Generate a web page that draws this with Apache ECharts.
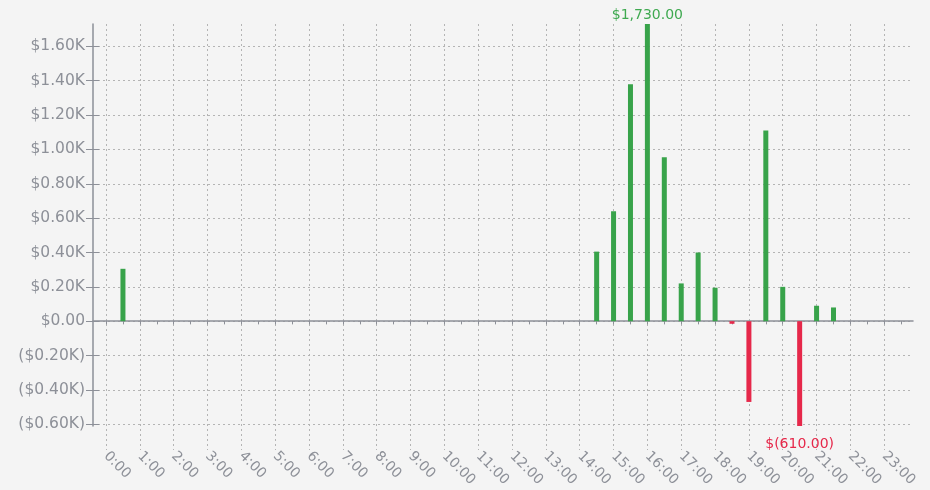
<!DOCTYPE html>
<html>
<head>
<meta charset="utf-8">
<script src="https://cdn.jsdelivr.net/npm/echarts@6/dist/echarts.min.js"></script>
<style>
html,body{margin:0;padding:0;background:#f4f4f4;}
#c{width:930px;height:490px;}
</style>
</head>
<body>
<div id="c"></div>
<script>
// ---- data ----
var slotHours = [0.5, 14.5, 15, 15.5, 16, 16.5, 17, 17.5, 18, 18.5, 19, 19.5, 20, 20.5, 21, 21.5];
var pnlValues = [305, 405, 640, 1380, 1730, 955, 220, 400, 195, -15, -470, 1110, 200, -610, 90, 80];
var yTickValues = [-600, -400, -200, 0, 200, 400, 600, 800, 1000, 1200, 1400, 1600];
var hourTicks = [0,1,2,3,4,5,6,7,8,9,10,11,12,13,14,15,16,17,18,19,20,21,22,23];
var halfHourTicks = [];
for (var i = 0; i < 48; i++) halfHourTicks.push(i / 2);

var GREEN = '#38a34a', RED = '#e6284a', GRAY = '#8d9098';
var XMIN = -0.385, XMAX = 23.85;
var YMIN = Math.min.apply(null, pnlValues), YMAX = Math.max.apply(null, pnlValues);

function fmtAxis(v) {
  if (v === 0) return '$0.00';
  var s = '$' + (Math.abs(v) / 1000).toFixed(2) + 'K';
  return v < 0 ? '(' + s + ')' : s;
}
function fmtMoney(v) {
  var a = Math.abs(v).toFixed(2).replace(/\B(?=(\d{3})+(?!\d))/g, ',');
  return v < 0 ? '$(' + a + ')' : '$' + a;
}

var maxIdx = pnlValues.indexOf(YMAX), minIdx = pnlValues.indexOf(YMIN);
var barData = slotHours.map(function (h, i) {
  var v = pnlValues[i];
  var d = { value: [h, v], itemStyle: { color: v >= 0 ? GREEN : RED } };
  if (i === maxIdx) {
    d.label = { show: true, position: 'top', distance: 2, color: '#3fa950', fontSize: 14,
      fontFamily: 'DejaVu Sans', formatter: fmtMoney(v) };
  } else if (i === minIdx) {
    d.label = { show: true, position: 'bottom', distance: 11, color: RED, fontSize: 14,
      fontFamily: 'DejaVu Sans', formatter: fmtMoney(v) };
  }
  return d;
});

var gridLine = { show: true, lineStyle: { color: '#b4b4b4', width: 1, type: [2, 3] } };

var chart = echarts.init(document.getElementById('c'), null, { renderer: 'canvas' });
chart.setOption({
  backgroundColor: '#f4f4f4',
  animation: false,
  textStyle: { fontFamily: 'DejaVu Sans' },
  grid: [
    { left: 93, right: 17, top: 24, bottom: 64 },
    { left: 93, right: 17, top: 24, bottom: 40 }
  ],
  xAxis: [
    { gridIndex: 0, type: 'value', min: XMIN, max: XMAX,
      axisLine: { show: true, onZero: true, lineStyle: { color: GRAY, width: 1.5 } },
      axisTick: { show: true, customValues: halfHourTicks, length: 3, lineStyle: { color: GRAY, width: 1 } },
      axisLabel: { show: false }, splitLine: { show: false } },
    { gridIndex: 0, type: 'value', min: XMIN, max: XMAX,
      axisLine: { show: false, onZero: true },
      axisTick: { show: true, inside: true, customValues: halfHourTicks, length: 3, lineStyle: { color: GRAY, width: 1 } },
      axisLabel: { show: false }, splitLine: { show: false } },
    { gridIndex: 1, type: 'value', min: XMIN, max: XMAX, position: 'bottom',
      axisLine: { show: false, onZero: false },
      axisTick: { show: false, customValues: hourTicks },
      axisLabel: { show: true, customValues: hourTicks, rotate: -45, margin: 4, color: GRAY, fontSize: 14,
        fontFamily: 'DejaVu Sans', formatter: function (v) { return Math.round(v) + ':00'; } },
      splitLine: gridLine }
  ],
  yAxis: [
    { gridIndex: 0, type: 'value', min: YMIN, max: YMAX, position: 'left',
      axisLine: { show: true, onZero: false, lineStyle: { color: GRAY, width: 1.5 } },
      axisTick: { show: true, customValues: yTickValues, length: 7, lineStyle: { color: GRAY, width: 1 } },
      axisLabel: { show: true, customValues: yTickValues, margin: 8, color: GRAY, fontSize: 15.5,
        fontFamily: 'DejaVu Sans', formatter: fmtAxis },
      splitLine: gridLine },
    { gridIndex: 0, type: 'value', min: YMIN, max: YMAX, position: 'left', offset: 0,
      axisLine: { show: false, onZero: false },
      axisTick: { show: true, inside: true, customValues: yTickValues, length: 6, lineStyle: { color: GRAY, width: 1 } },
      axisLabel: { show: false }, splitLine: { show: false } },
    { gridIndex: 1, type: 'value', show: false, min: 0, max: 1 }
  ],
  series: [{
    type: 'bar', xAxisIndex: 0, yAxisIndex: 0, barWidth: 5,
    data: barData
  }]
});
</script>
</body>
</html>
